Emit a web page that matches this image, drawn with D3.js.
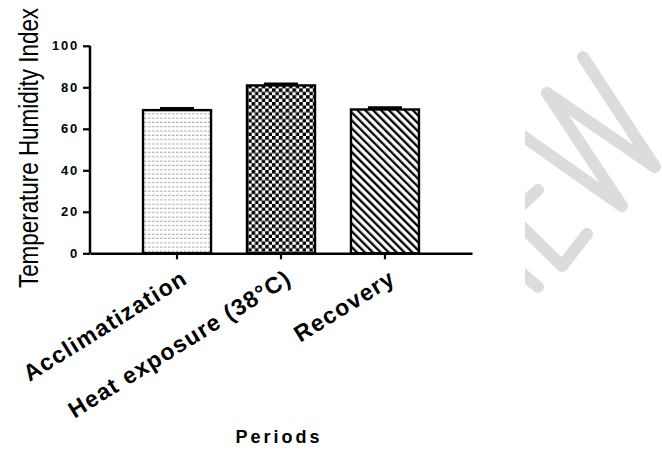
<!DOCTYPE html>
<html><head><meta charset="utf-8">
<script src="https://cdn.jsdelivr.net/npm/d3@7"></script>
<style>body{margin:0;background:#fff}svg{display:block}</style>
</head><body>
<script>
const categories = ["Acclimatization", "Heat exposure (38\u00B0C)", "Recovery"];
const means = [69.0, 80.9, 69.3];
const sems = [0.8, 0.7, 0.8];
const yTicks = [0, 20, 40, 60, 80, 100];
const patterns = ["dots", "checker", "diag"];

const W = 662, H = 450;
const svg = d3.select("body").append("svg").attr("width", W).attr("height", H);
const defs = svg.append("defs");

// patterns
const p1 = defs.append("pattern").attr("id","dots").attr("patternUnits","userSpaceOnUse").attr("width",4).attr("height",4.3);
p1.append("rect").attr("width",4).attr("height",4.3).attr("fill","#fff");
p1.append("rect").attr("x",0).attr("y",1.5).attr("width",2.6).attr("height",1).attr("fill","#a8a8a8");
const p2 = defs.append("pattern").attr("id","checker").attr("patternUnits","userSpaceOnUse").attr("width",6.8).attr("height",6.8);
p2.append("rect").attr("width",6.8).attr("height",6.8).attr("fill","#fff");
p2.append("rect").attr("width",3.6).attr("height",3.6).attr("fill","#000");
p2.append("rect").attr("x",3.4).attr("y",3.4).attr("width",3.6).attr("height",3.6).attr("fill","#000");
const p3 = defs.append("pattern").attr("id","diag").attr("patternUnits","userSpaceOnUse").attr("width",5.6).attr("height",5.6).attr("patternTransform","rotate(-45)");
p3.append("rect").attr("width",5.6).attr("height",5.6).attr("fill","#fff");
p3.append("rect").attr("x",0).attr("y",0).attr("width",2.3).attr("height",5.6).attr("fill","#000");

// watermark (decorative)
defs.append("clipPath").attr("id","wmclip").append("rect").attr("x",525).attr("y",0).attr("width",140).attr("height",450);
const wm = svg.append("g").attr("clip-path","url(#wmclip)").attr("fill","none").attr("stroke","#dcdcdc")
  .attr("stroke-width",12).attr("stroke-linecap","round").attr("stroke-linejoin","round");
wm.append("path").attr("d","M583,57 L655,167 L547,93 L622,206 L500,120");
wm.append("path").attr("d","M538,190 L500,225");
wm.append("path").attr("d","M500,205 L562,266 L587,234");
wm.append("path").attr("d","M500,255 L538,287");

const y = d3.scaleLinear().domain([0,100]).range([253.3, 45.8]);
const x = d3.scaleBand().domain(categories).range([90, 472]).paddingInner(0.346).paddingOuter(0.51);

// bars
svg.append("g").selectAll("rect").data(categories).join("rect")
  .attr("x", d => x(d)).attr("y", (d,i) => y(means[i]))
  .attr("width", x.bandwidth()).attr("height", (d,i) => y(0) - y(means[i]))
  .attr("fill", (d,i) => `url(#${patterns[i]})`)
  .attr("stroke", "#000").attr("stroke-width", 2.4);

// error bars (upper)
const eb = svg.append("g").attr("stroke","#000");
categories.forEach((c,i) => {
  const cx = x(c) + x.bandwidth()/2;
  eb.append("line").attr("x1",cx).attr("x2",cx).attr("y1",y(means[i])).attr("y2",y(means[i]+sems[i])).attr("stroke-width",2.4);
  eb.append("line").attr("x1",cx-17).attr("x2",cx+17).attr("y1",y(means[i]+sems[i])).attr("y2",y(means[i]+sems[i])).attr("stroke-width",3);
});

// y axis
const ya = svg.append("g").attr("transform","translate(90,0)")
  .call(d3.axisLeft(y).tickValues(yTicks).tickSize(7).tickPadding(4).tickFormat(d3.format("d")));
ya.select(".domain").attr("stroke-width",2.5).attr("d", `M0,${y(100)}V${y(0)}`);
ya.selectAll(".tick line").attr("stroke-width",2.2);
ya.selectAll("text").attr("font-family","Liberation Sans, Arial, sans-serif").attr("font-weight","bold")
  .attr("font-size",13).attr("letter-spacing",1.8).attr("fill","#000");

// x axis
const xa = svg.append("g").attr("transform",`translate(0,${y(0)})`)
  .call(d3.axisBottom(x).tickSize(6).tickSizeOuter(0));
xa.select(".domain").attr("stroke-width",2.5);
xa.selectAll(".tick line").attr("stroke-width",2.2);
xa.selectAll("text").attr("font-family","Liberation Sans, Arial, sans-serif").attr("font-weight","bold")
  .attr("font-size",23).attr("letter-spacing",1.3).attr("fill","#000").attr("text-anchor","end")
  .attr("dy",0).attr("y",0)
  .attr("transform","translate(12,29) rotate(-32)");

// axis titles
svg.append("text").attr("transform","translate(38,148) rotate(-90) scale(0.83,1)").attr("text-anchor","middle")
  .attr("font-family","Liberation Sans, Arial, sans-serif").attr("font-size",27)
  .text("Temperature Humidity Index");
svg.append("text").attr("x",279).attr("y",443).attr("text-anchor","middle")
  .attr("font-family","Liberation Sans, Arial, sans-serif").attr("font-weight","bold").attr("font-size",18)
  .attr("letter-spacing",3)
  .text("Periods");
</script>
</body></html>
